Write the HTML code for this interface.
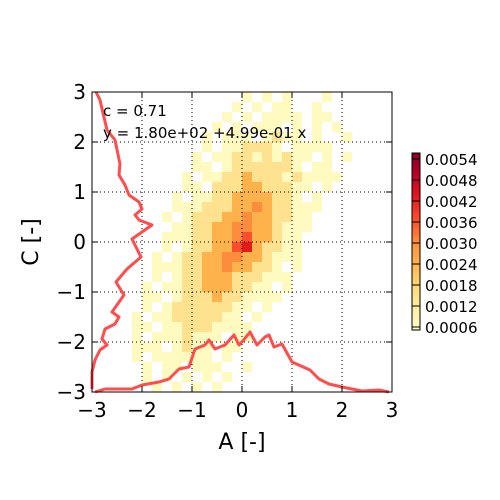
<!DOCTYPE html>
<html><head><meta charset="utf-8"><style>
html,body{margin:0;padding:0;background:#fff;}
svg{display:block;font-family:"DejaVu Sans","Liberation Sans",sans-serif;}
</style></head><body>
<svg id="chart" width="500" height="500" viewBox="0 0 500 500" xmlns="http://www.w3.org/2000/svg">
<rect x="0" y="0" width="500" height="500" fill="#fff"/>
<g id="cells"></g>
<g id="grid"></g>
<g id="curves"></g>
<rect x="92" y="92" width="300" height="300" fill="none" stroke="#000" stroke-width="1"/>
<g id="ticks"></g>
<text x="103" y="116" font-size="15">c = 0.71</text>
<text x="103" y="138" font-size="15">y = 1.80e+02 +4.99e-01 x</text>
<text x="242" y="449" font-size="22" text-anchor="middle">A [-]</text>
<text x="38" y="242" font-size="22" text-anchor="middle" transform="rotate(-90 38 242)">C [-]</text>
<defs><linearGradient id="cbg" x1="0" y1="1" x2="0" y2="0">
<stop offset="0" stop-color="#ffffcc"/><stop offset="0.125" stop-color="#ffeda0"/><stop offset="0.25" stop-color="#fed976"/><stop offset="0.375" stop-color="#feb24c"/><stop offset="0.5" stop-color="#fd8d3c"/><stop offset="0.625" stop-color="#fc4e2a"/><stop offset="0.75" stop-color="#e31a1c"/><stop offset="0.875" stop-color="#bd0026"/><stop offset="1" stop-color="#800026"/>
</linearGradient></defs>
<rect x="412" y="153" width="8" height="177" fill="url(#cbg)" stroke="#000" stroke-width="1"/>
<g id="cbticks"></g>
</svg>
<script>
const xTicks=[-3,-2,-1,0,1,2,3];
const yTicks=[-3,-2,-1,0,1,2,3];
const cbTicks=["0.0006","0.0012","0.0018","0.0024","0.0030","0.0036","0.0042","0.0048","0.0054"];
const densityRows=[
"000000000000000101010001000000",
"000000000000001010110010000000",
"000000000000010101111011000000",
"000000000000101011101010100000",
"000000000001011101211010010000",
"000000000001011222101111000000",
"000000000010112212121101010000",
"000000000011012222221011000000",
"000000000101122322212111100000",
"000000000110222332221101000000",
"000000001011223333221010000000",
"000000001112223343221110000000",
"000000010122233433221100000000",
"000000001122334433211100000000",
"000000011122334533211000000000",
"000000010122335632211000000000",
"000000101223344332111000000000",
"000000111223343322101000000000",
"000000101223332221110000000000",
"000001011223332211010000000000",
"000001101222322111100000000000",
"000001012222221101000000000000",
"000010112222211010000000000000",
"000011011222111100000000000000",
"000010111211101100000000000000",
"000011101211011000000000000000",
"000010111111010000000000000000",
"000001011011100100000000000000",
"000001010101010000000000000000",
"000000101010100000000000000000"];
const margYvals=[3,2.84,2.24,2.04,1.56,1.34,1.14,0.94,0.80,0.66,0.54,0.44,0.34,0.06,-0.30,-0.54,-0.80,-1.06,-1.40,-1.50,-1.64,-1.74,-1.94,-2.06,-2.16,-2.36,-2.60,-2.94];
const margYdens=[-2.92,-2.84,-2.70,-2.54,-2.44,-2.46,-2.34,-2.26,-2.06,-2.00,-2.14,-2.06,-1.80,-2.20,-2.02,-2.30,-2.52,-2.36,-2.60,-2.46,-2.54,-2.74,-2.80,-2.70,-2.84,-2.94,-3.0,-3.0];
const margXvals=[-2.94,-2.74,-2.46,-2.20,-2.0,-1.66,-1.46,-1.26,-1.06,-0.94,-0.74,-0.66,-0.54,-0.34,-0.16,-0.06,0,0.16,0.30,0.46,0.54,0.64,0.80,1.0,1.36,1.54,1.74,2.0,2.40,2.74,2.94];
const margXdens=[-3.0,-2.94,-2.94,-2.94,-2.86,-2.80,-2.74,-2.54,-2.50,-2.14,-2.06,-1.96,-2.14,-2.06,-1.86,-2.06,-2.0,-1.80,-2.06,-1.90,-1.86,-2.10,-2.04,-2.40,-2.56,-2.74,-2.84,-2.90,-2.98,-2.96,-3.0];
const NS='http://www.w3.org/2000/svg';
const X=v=>242+v*50, Y=v=>242-v*50;
const cmap=["#fffac0","#fee290","#feb24c","#fd8d3c","#fc4e2a","#e31a1c","#bd0026","#800026","#800026"];
function mk(tag,attrs,parent){const e=document.createElementNS(NS,tag);for(const k in attrs)e.setAttribute(k,attrs[k]);parent.appendChild(e);return e;}
const cells=document.getElementById('cells');
densityRows.forEach((row,r)=>{for(let c=0;c<row.length;c++){const lv=+row[c];if(!lv)continue;
 const x0=-3+0.2*c, y1=3-0.2*r;
 const e=mk('rect',{x:X(x0),y:Y(y1),width:10,height:10,fill:cmap[Math.min(lv,9)-1]},cells);
 
 }});
const grid=document.getElementById('grid'),ticks=document.getElementById('ticks');
xTicks.forEach(v=>{
 if(v>-3&&v<3){const l=mk('line',{x1:X(v),x2:X(v),y1:92,y2:392,stroke:'#000','stroke-dasharray':'1,3','stroke-width':1},grid);
 }
 mk('line',{x1:X(v),x2:X(v),y1:392,y2:386,stroke:'#000'},ticks);
 mk('line',{x1:X(v),x2:X(v),y1:92,y2:98,stroke:'#000'},ticks);
 const t=mk('text',{x:X(v),y:417,'font-size':20,'text-anchor':'middle'},ticks);t.textContent=v<0?'\u2212'+(-v):String(v);
 });
yTicks.forEach(v=>{
 if(v>-3&&v<3){const l=mk('line',{x1:92,x2:392,y1:Y(v),y2:Y(v),stroke:'#000','stroke-dasharray':'1,3','stroke-width':1},grid);
 }
 mk('line',{x1:92,x2:98,y1:Y(v),y2:Y(v),stroke:'#000'},ticks);
 mk('line',{x1:386,x2:392,y1:Y(v),y2:Y(v),stroke:'#000'},ticks);
 const t=mk('text',{x:86,y:Y(v)+7,'font-size':20,'text-anchor':'end'},ticks);t.textContent=v<0?'\u2212'+(-v):String(v);
 });
const curves=document.getElementById('curves');
const p1=mk('polyline',{points:margYvals.map((y,i)=>X(margYdens[i])+','+Y(y)).join(' '),fill:'none',stroke:'#ff4d4d','stroke-width':3,'stroke-linejoin':'round'},curves);

const p2=mk('polyline',{points:margXvals.map((x,i)=>X(x)+','+Y(margXdens[i])).join(' '),fill:'none',stroke:'#ff4d4d','stroke-width':3,'stroke-linejoin':'round'},curves);

const cb=document.getElementById('cbticks');
cbTicks.forEach((s,i)=>{const y=327-i*21;
 mk('line',{x1:412,x2:416,y1:y,y2:y,stroke:'#000'},cb);mk('line',{x1:416,x2:420,y1:y,y2:y,stroke:'#000'},cb);
 const t=mk('text',{x:425,y:y+6,'font-size':15},cb);t.textContent=s;
 });
</script>
</body></html>
